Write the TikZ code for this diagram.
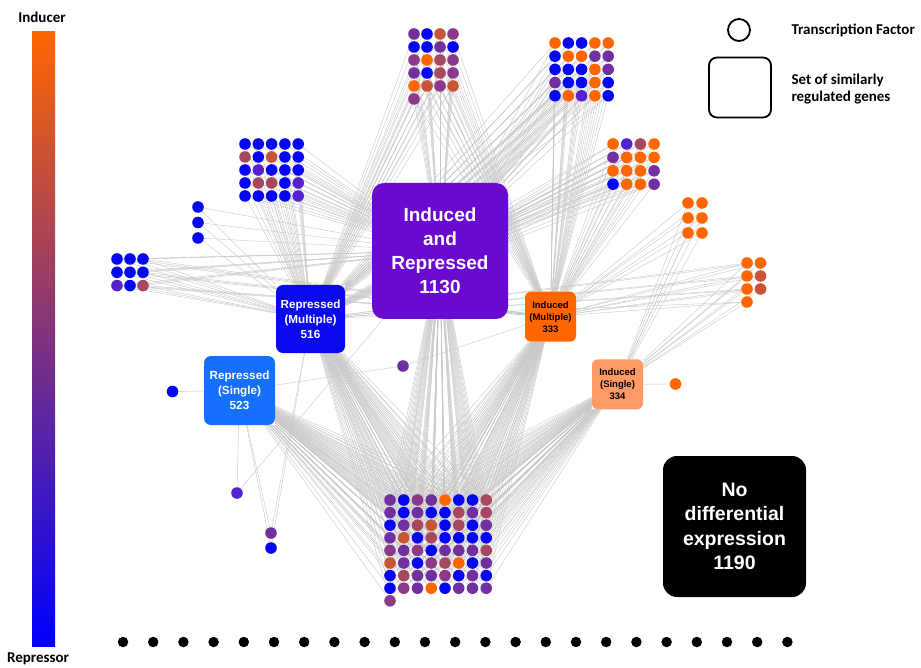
\documentclass[tikz,border=0pt]{standalone}
\usepackage{fontspec}
\setmainfont{Liberation Sans}
\newfontfamily\legfont{Carlito}
\pgfdeclarelayer{edges}
\pgfsetlayers{edges,main}
\definecolor{tfO}{HTML}{FF6600}
\definecolor{tfB}{HTML}{0505F5}
\definecolor{tfP}{HTML}{7030A0}
\definecolor{tfM}{HTML}{8A3A88}
\definecolor{tfR}{HTML}{A84860}
\definecolor{tfD}{HTML}{C85535}
\definecolor{tfV}{HTML}{5522CC}
\definecolor{bigC}{HTML}{6A0AD0}
\definecolor{rmC}{HTML}{0A0AEE}
\definecolor{rsC}{HTML}{1570FF}
\definecolor{imC}{HTML}{FF6600}
\definecolor{isC}{HTML}{FF9966}
\tikzset{
  tf/.style={circle, minimum size=11.6pt, inner sep=0pt, draw=none},
  bk/.style={circle, fill=black, minimum size=10.5pt, inner sep=0pt},
  edge/.style={draw=black!22, line width=0.4pt},
  geneset/.style={rectangle, inner sep=1pt, align=center},
  legtext/.style={font=\legfont\bfseries\fontsize{15}{17}\selectfont, anchor=west, align=left},
}
\newcommand{\tfgrid}[7]{%
  \foreach \tfc [count=\kk from 0] in {#7} {%
    \pgfmathtruncatemacro{\tfcol}{mod(\kk,#4)}%
    \pgfmathtruncatemacro{\tfrow}{div(\kk,#4)}%
    \node[tf, fill=tf\tfc] (#1\kk) at ({#2+\tfcol*#5},{#3+\tfrow*#6}) {};
  }%
}
\newcommand{\tfedges}[3]{%
  \foreach \kk in {0,...,#2} {%
    \foreach \tgt in {#3} {\draw[edge] (#1\kk) -- (\tgt);}%
  }%
}
\begin{document}
\begin{tikzpicture}[x=1pt,y=-1pt]
\path[use as bounding box] (0,0) rectangle (921,668);

% colour bar
\shade[top color=tfO, bottom color=blue] (32,32) rectangle (55,646);
\node[font=\legfont\bfseries\fontsize{15}{17}\selectfont] (ind) at (42,17) {Inducer};
\node[font=\legfont\bfseries\fontsize{15}{17}\selectfont] (rep) at (38,659) {Repressor};

% legend
\node[circle, draw=black, line width=1.8pt, minimum size=22pt, inner sep=0pt] (legc) at (739,30) {};
\node[legtext] (legct) at (788,30) {Transcription Factor};
\node[rectangle, rounded corners=8pt, draw=black, line width=1.8pt, minimum width=62pt, minimum height=60pt] (legs) at (740,87.5) {};
\node[legtext, font=\legfont\bfseries\fontsize{15}{17.5}\selectfont] (legst) at (788,89) {Set of similarly\\regulated genes};

% gene sets
\node[geneset, fill=bigC, rounded corners=12pt, minimum width=136pt, minimum height=136pt, text=white, font=\bfseries\fontsize{19}{24}\selectfont] (big) at (440,251) {Induced\\and\\Repressed\\1130};
\node[geneset, fill=rmC, rounded corners=7pt, minimum width=69pt, minimum height=68pt, text=white, font=\bfseries\fontsize{11.7}{15}\selectfont] (rm) at (310.5,319) {Repressed\\(Multiple)\\516};
\node[geneset, fill=rsC, rounded corners=7pt, minimum width=71pt, minimum height=69pt, text=white, font=\bfseries\fontsize{11.7}{15}\selectfont] (rs) at (239.5,390.5) {Repressed\\(Single)\\523};
\node[geneset, fill=imC, rounded corners=6pt, minimum width=51pt, minimum height=50pt, text=black, font=\bfseries\fontsize{9.5}{12}\selectfont] (im) at (550.5,316.7) {Induced\\(Multiple)\\333};
\node[geneset, fill=isC, rounded corners=6pt, minimum width=51pt, minimum height=50pt, text=black, font=\bfseries\fontsize{9.5}{12}\selectfont] (is) at (617.5,384.3) {Induced\\(Single)\\334};
\node[geneset, fill=black, rounded corners=14pt, minimum width=143pt, minimum height=141pt, text=white, font=\bfseries\fontsize{19.5}{24.5}\selectfont] (nd) at (734.5,526.5) {No\\differential\\expression\\1190};

% transcription factor clusters
\tfgrid{tc}{414}{34}{4}{13}{13}{P,B,D,M, B,B,P,B, M,O,R,M, P,B,R,M, O,D,M,D, M}
\tfgrid{tr}{555}{43}{5}{13.3}{13.2}{O,B,B,O,O, B,O,O,P,P, B,B,B,O,P, P,B,B,O,B, B,O,V,O,B}
\tfgrid{lc}{245}{144}{5}{13.3}{13}{B,B,B,B,B, R,B,D,B,B, B,V,B,B,B, B,R,R,B,V, B,B,B,B,V}
\tfgrid{sv}{198}{207}{1}{0}{15.5}{B,B,B}
\tfgrid{ll}{117}{259}{3}{13}{13.3}{B,B,B, B,B,B, V,B,R}
\tfgrid{rc}{613}{144}{4}{13.7}{13.4}{O,V,R,O, P,O,O,O, O,O,O,P, B,O,O,P}
\tfgrid{rt}{688}{203}{2}{14}{15}{O,O, O,O, O,O}
\tfgrid{rr}{747}{263}{2}{13.5}{13}{O,O, O,D, O,D, O}
\tfgrid{bc}{390}{500}{8}{13.75}{12.6}{P,B,M,P,O,B,B,R, P,B,P,B,B,R,P,R, B,P,R,D,B,R,B,P, P,D,B,R,B,B,B,B, M,P,M,B,P,P,P,R, D,P,B,M,R,O,B,P, B,R,P,P,M,B,P,B, B,M,P,O,B,P,P,P, M}
\node[tf, fill=tfB] (sa) at (172.5,391.5) {};
\node[tf, fill=tfP] (sb) at (403,366) {};
\node[tf, fill=tfO] (sc) at (675.5,384) {};
\node[tf, fill=tfV] (sd) at (237,493) {};
\node[tf, fill=tfP] (se) at (271,533) {};
\node[tf, fill=tfB] (sf) at (271,548) {};

% unconnected factors
\foreach \kk in {0,...,22} {
  \node[bk] (bk\kk) at ({123+\kk*30.2},642) {};
}

% regulatory edges
\begin{pgfonlayer}{edges}
\tfedges{tc}{20}{big,rm,im}
\tfedges{tr}{24}{big,rm,im}
\tfedges{lc}{24}{big,rm}
\tfedges{sv}{2}{big,rm}
\tfedges{ll}{8}{big,rm,im}
\tfedges{rc}{15}{big,im,rm}
\tfedges{rt}{5}{im,is}
\tfedges{rr}{6}{im,is,rm}
\tfedges{bc}{64}{rs,rm,big,im,is}
\draw[edge] (sa) -- (rs);
\draw[edge] (sb) -- (rs);
\draw[edge] (sb) -- (im);
\draw[edge] (sc) -- (is);
\draw[edge] (sd) -- (rs);
\draw[edge] (sd) -- (big);
\draw[edge] (se) -- (rs);
\draw[edge] (se) -- (rm);
\draw[edge] (sf) -- (rs);
\draw[edge] (sf) -- (rm);
\end{pgfonlayer}
\end{tikzpicture}
\end{document}
